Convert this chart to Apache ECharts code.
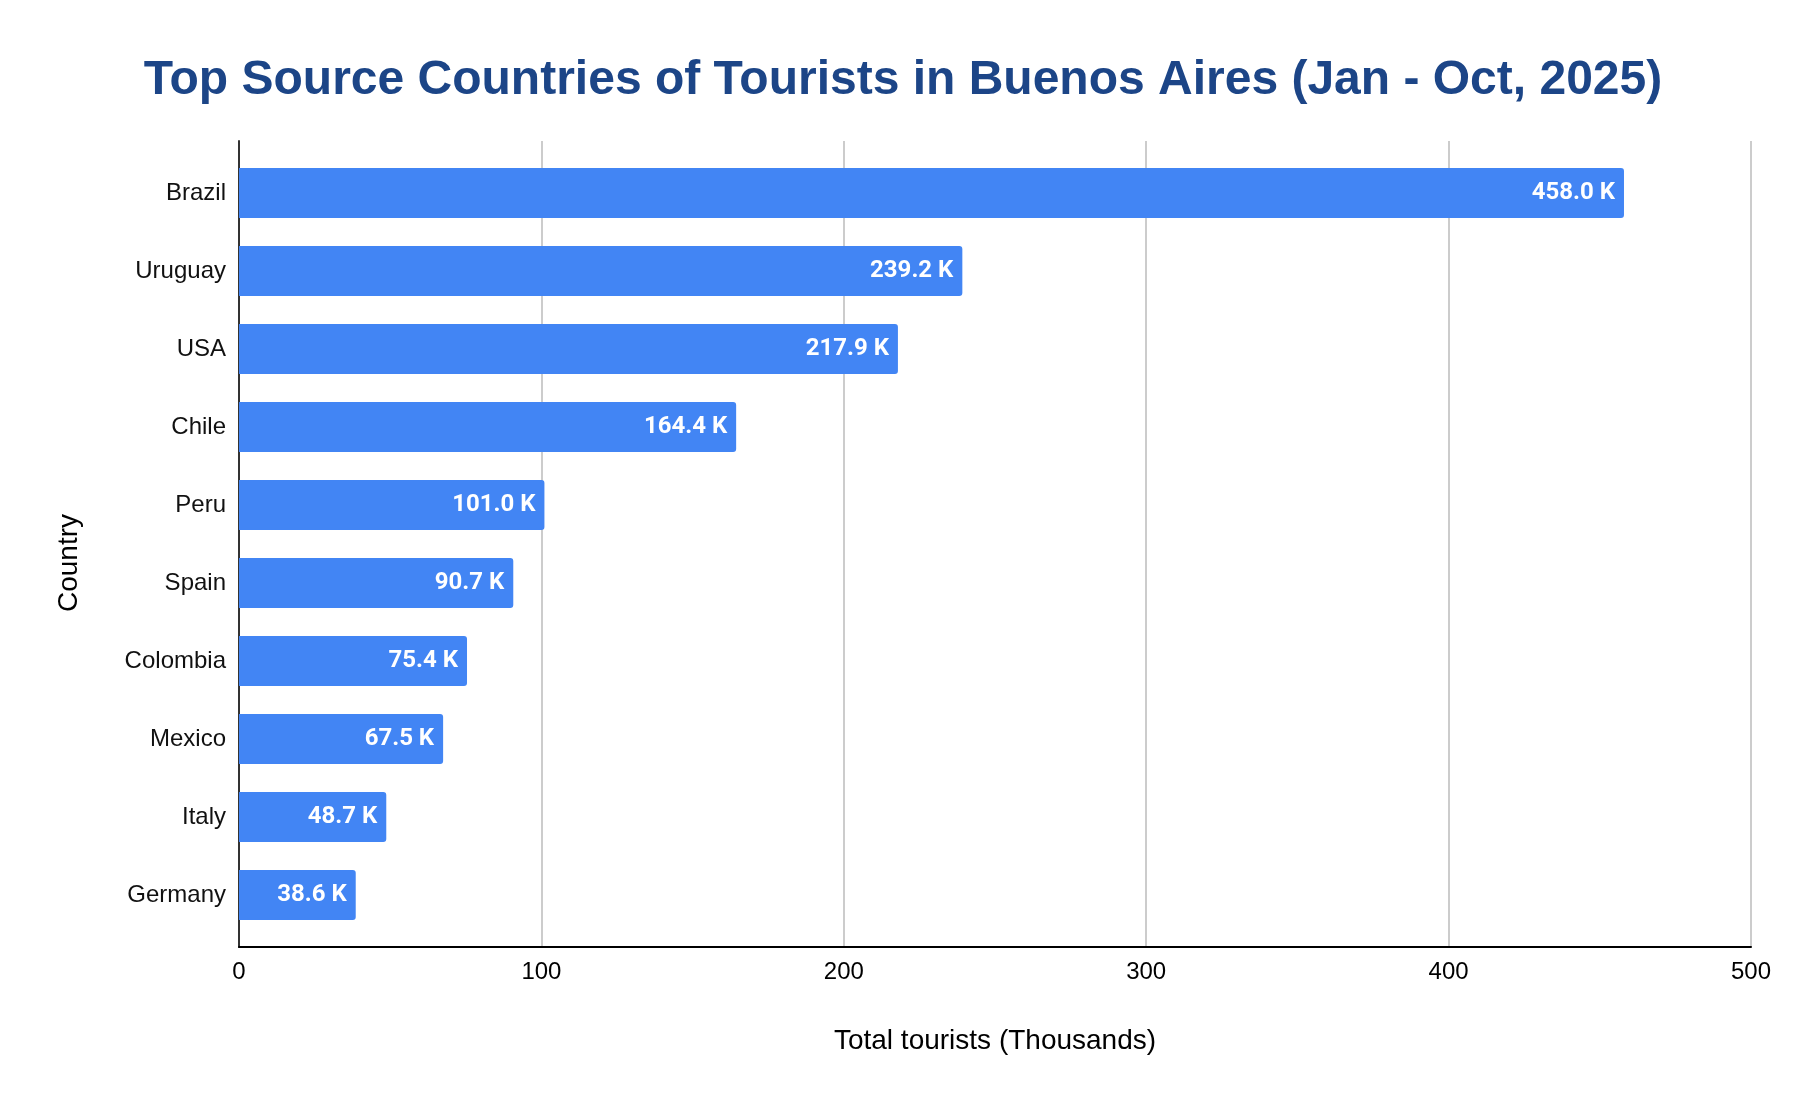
<!DOCTYPE html>
<html lang="en">
<head>
    <meta charset="UTF-8">
    <title>Top Source Countries of Tourists in Buenos Aires</title>
    <style>
        html, body { margin: 0; padding: 0; background: #fff; }
        #chart { width: 1806px; height: 1108px; }
    </style>
</head>
<body>
<div id="chart"></div>
<script src="https://cdn.jsdelivr.net/npm/echarts@6/dist/echarts.min.js"></script>
<script>
    // data (thousands of tourists)
    var countries = ['Brazil', 'Uruguay', 'USA', 'Chile', 'Peru', 'Spain', 'Colombia', 'Mexico', 'Italy', 'Germany'];
    var tourists = [458.0, 239.2, 217.9, 164.4, 101.0, 90.7, 75.4, 67.5, 48.7, 38.6];
    var xTicks = [0, 100, 200, 300, 400, 500];

    var chart = echarts.init(document.getElementById('chart'));

    var option = {
        backgroundColor: '#ffffff',
        animation: false,
        title: {
            text: 'Top Source Countries of Tourists in Buenos Aires (Jan - Oct, 2025)',
            left: 'center',
            top: 52,
            textStyle: {
                fontFamily: 'Liberation Sans, Arial, sans-serif',
                fontSize: 48,
                fontWeight: 'bold',
                color: '#1c4587'
            }
        },
        // grid 0 carries the axes and gridlines, grid 1 the bars (inset like the original)
        grid: [
            { left: 239, right: 55, top: 141, bottom: 161 },
            { left: 239, right: 55, top: 154, bottom: 174 }
        ],
        xAxis: [{
            gridIndex: 0,
            type: 'value',
            min: xTicks[0],
            max: xTicks[xTicks.length - 1],
            interval: 100,
            name: 'Total tourists (Thousands)',
            nameLocation: 'middle',
            nameGap: 80,
            nameTextStyle: { fontFamily: 'Liberation Sans, Arial, sans-serif', fontSize: 28, color: '#000' },
            axisLine: { show: true, lineStyle: { color: '#000', width: 2 } },
            axisTick: { show: false },
            axisLabel: { margin: 13, fontFamily: 'Liberation Sans, Arial, sans-serif', fontSize: 24, color: '#000' },
            splitLine: { show: true, lineStyle: { color: '#cccccc', width: 2 } }
        }, {
            gridIndex: 1,
            type: 'value',
            min: xTicks[0],
            max: xTicks[xTicks.length - 1],
            show: false
        }],
        yAxis: [{
            gridIndex: 0,
            type: 'value',
            min: 0,
            max: 1,
            name: 'Country',
            nameLocation: 'middle',
            nameRotate: 90,
            nameGap: 156,
            nameTextStyle: {
                fontFamily: 'Liberation Sans, Arial, sans-serif',
                fontSize: 28,
                color: '#000',
                padding: [0, 38, 0, 0]
            },
            axisLine: { show: true, lineStyle: { color: '#333', width: 2 } },
            axisTick: { show: false },
            axisLabel: { show: false },
            splitLine: { show: false }
        }, {
            gridIndex: 1,
            type: 'category',
            inverse: true,
            data: countries,
            axisLine: { show: false },
            axisTick: { show: false },
            axisLabel: { margin: 13, fontFamily: 'Liberation Sans, Arial, sans-serif', fontSize: 24, color: '#111' }
        }],
        series: [{
            type: 'bar',
            xAxisIndex: 1,
            yAxisIndex: 1,
            data: tourists,
            barWidth: 50,
            itemStyle: { color: '#4285f4', borderRadius: [0, 3, 3, 0] },
            label: {
                show: true,
                position: 'insideRight',
                distance: 9,
                color: '#fff',
                fontFamily: 'Roboto, sans-serif',
                fontWeight: 'bold',
                fontSize: 24,
                formatter: function (p) { return p.value.toFixed(1) + ' K'; }
            }
        }]
    };

    chart.setOption(option);
</script>
</body>
</html>
